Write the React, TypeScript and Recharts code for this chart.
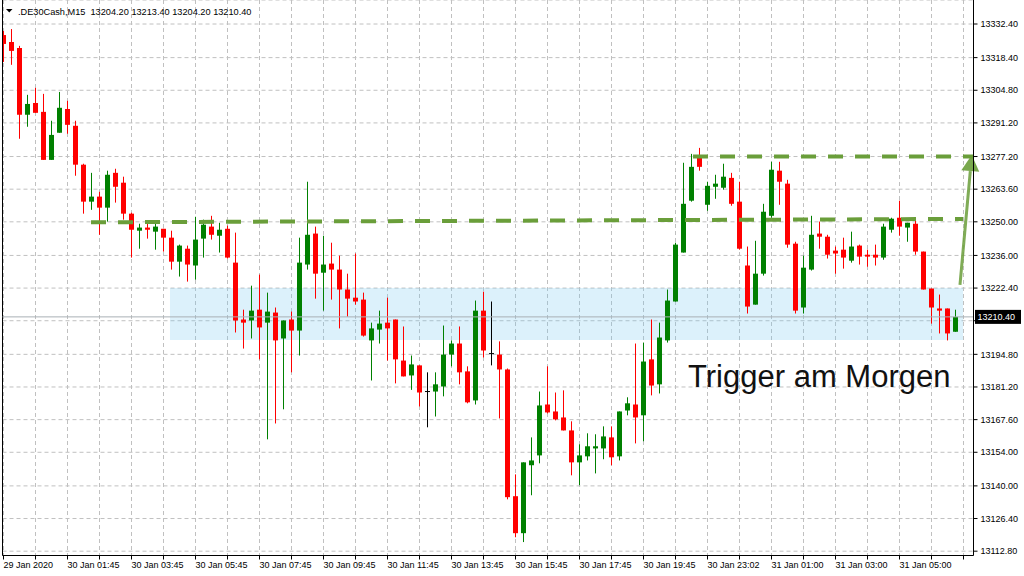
import React from 'react';
import {
  ComposedChart,
  Bar,
  XAxis,
  YAxis,
  CartesianGrid,
  ReferenceLine,
  ReferenceArea,
} from 'recharts';

// DE30 M15 candles, 29 Jan 23:45 -> 31 Jan 06:45
const opens = [
  13327.8, 13324.9, 13322.4, 13294.6, 13299.5, 13295.8, 13275.8, 13287.1, 13297.0, 13290.0,
  13273.8, 13258.4, 13260.5, 13255.9, 13270.4, 13266.3, 13253.4, 13246.3, 13247.6, 13245.9,
  13247.1, 13243.4, 13233.4, 13238.8, 13231.8, 13243.0, 13248.0, 13244.2, 13247.1, 13233.0,
  13209.3, 13208.9, 13213.4, 13208.0, 13212.2, 13201.4, 13209.3, 13204.7, 13232.2, 13245.1,
  13228.8, 13232.6, 13230.1, 13221.8, 13218.4, 13217.6, 13200.6, 13205.1, 13208.0, 13209.3,
  13192.2, 13186.0, 13190.2, 13179.3, 13179.3, 13181.4, 13194.7, 13199.3, 13187.7, 13175.6,
  13213.0, 13195.1, 13194.7, 13188.5, 13135.7, 13120.3, 13148.6, 13152.7, 13173.9, 13171.0,
  13168.5, 13163.1, 13149.8, 13152.3, 13155.6, 13155.6, 13160.2, 13152.3, 13171.4, 13173.9,
  13169.4, 13192.7, 13182.3, 13200.6, 13216.8, 13237.2, 13258.8, 13276.7, 13257.1, 13264.6,
  13264.2, 13268.3, 13258.4, 13231.8, 13215.5, 13228.4, 13252.5, 13271.3, 13265.9, 13240.9,
  13214.3, 13230.1, 13245.1, 13243.8, 13238.0, 13238.4, 13233.8, 13240.1, 13236.3, 13236.3,
  13235.1, 13246.7, 13251.7, 13247.6, 13249.2, 13237.6, 13222.2, 13213.9, 13213.9, 13204.2,
];
const highs = [
  13329.5, 13330.3, 13323.3, 13302.9, 13305.8, 13303.3, 13292.1, 13304.1, 13300.4, 13292.1,
  13274.2, 13270.4, 13262.5, 13271.3, 13272.1, 13268.8, 13253.8, 13249.2, 13249.2, 13249.2,
  13247.1, 13246.3, 13240.5, 13240.1, 13252.1, 13250.9, 13252.5, 13249.6, 13248.4, 13245.5,
  13213.4, 13223.4, 13228.0, 13220.5, 13214.3, 13208.9, 13212.6, 13243.4, 13266.7, 13248.0,
  13244.2, 13241.3, 13235.9, 13228.4, 13236.8, 13220.5, 13208.0, 13213.0, 13218.4, 13209.3,
  13206.4, 13194.3, 13190.2, 13187.3, 13187.3, 13206.8, 13200.6, 13206.4, 13189.8, 13217.2,
  13220.9, 13216.8, 13200.2, 13188.9, 13144.8, 13149.8, 13160.2, 13179.3, 13189.8, 13178.9,
  13179.8, 13166.9, 13157.3, 13161.9, 13161.5, 13164.8, 13164.8, 13171.0, 13176.9, 13199.3,
  13199.7, 13209.3, 13208.0, 13221.8, 13241.3, 13274.6, 13278.3, 13280.8, 13266.7, 13269.6,
  13274.2, 13270.4, 13266.7, 13239.7, 13242.1, 13257.5, 13275.0, 13275.0, 13267.5, 13241.7,
  13235.9, 13252.5, 13250.1, 13244.6, 13239.7, 13243.4, 13245.9, 13240.5, 13238.4, 13240.5,
  13249.2, 13251.7, 13258.8, 13249.6, 13251.3, 13237.6, 13222.2, 13219.7, 13213.9, 13213.4,
];
const lows = [
  13316.6, 13315.4, 13284.6, 13289.6, 13295.4, 13275.8, 13275.8, 13287.1, 13286.7, 13269.2,
  13253.4, 13255.0, 13244.6, 13250.1, 13258.0, 13250.9, 13235.1, 13238.8, 13243.0, 13238.4,
  13237.6, 13230.1, 13227.2, 13225.1, 13225.9, 13235.1, 13242.6, 13237.2, 13234.7, 13203.9,
  13197.2, 13201.4, 13192.7, 13159.4, 13166.0, 13171.9, 13187.3, 13194.3, 13230.1, 13218.0,
  13213.0, 13217.6, 13205.6, 13210.5, 13215.5, 13202.2, 13183.9, 13199.3, 13192.2, 13182.7,
  13185.6, 13180.0, 13173.1, 13164.4, 13168.9, 13177.3, 13189.8, 13182.3, 13174.4, 13173.9,
  13193.5, 13190.2, 13168.1, 13134.4, 13118.6, 13116.6, 13136.1, 13149.4, 13170.2, 13167.3,
  13163.1, 13144.4, 13140.3, 13150.6, 13145.2, 13151.1, 13148.6, 13150.6, 13169.4, 13157.7,
  13158.6, 13177.7, 13178.5, 13199.7, 13216.8, 13237.2, 13258.4, 13271.3, 13254.6, 13259.6,
  13263.4, 13256.7, 13238.4, 13211.8, 13215.5, 13227.6, 13251.7, 13257.1, 13239.2, 13211.8,
  13211.8, 13229.7, 13238.8, 13234.7, 13228.4, 13230.5, 13233.0, 13232.2, 13231.3, 13231.8,
  13234.2, 13245.5, 13244.2, 13241.7, 13236.3, 13221.8, 13207.6, 13203.5, 13200.6, 13204.2,
];
const closes = [
  13324.1, 13321.2, 13294.6, 13299.1, 13295.4, 13275.8, 13286.2, 13297.5, 13290.4, 13273.8,
  13258.4, 13260.5, 13255.9, 13269.6, 13264.6, 13253.4, 13246.7, 13247.6, 13246.7, 13248.0,
  13243.4, 13233.4, 13240.1, 13232.2, 13242.6, 13248.8, 13244.6, 13246.7, 13235.1, 13208.9,
  13208.0, 13213.0, 13206.0, 13212.6, 13200.6, 13208.9, 13204.7, 13233.0, 13244.6, 13228.4,
  13232.2, 13230.1, 13221.8, 13218.0, 13216.8, 13202.6, 13205.6, 13207.6, 13205.6, 13192.7,
  13185.6, 13190.6, 13178.9, 13179.3, 13182.3, 13194.7, 13199.3, 13187.3, 13174.8, 13213.0,
  13196.4, 13195.1, 13188.5, 13135.3, 13120.3, 13149.8, 13150.6, 13173.5, 13170.6, 13167.7,
  13163.1, 13149.8, 13152.7, 13156.5, 13156.5, 13160.6, 13151.9, 13171.0, 13174.4, 13168.5,
  13191.8, 13181.8, 13201.8, 13217.2, 13240.5, 13257.5, 13272.9, 13272.9, 13265.0, 13265.9,
  13268.8, 13257.5, 13238.8, 13214.7, 13228.4, 13254.2, 13271.7, 13266.7, 13240.5, 13213.0,
  13230.9, 13244.6, 13243.8, 13236.3, 13236.8, 13235.1, 13239.7, 13235.5, 13235.5, 13235.1,
  13248.0, 13251.3, 13248.0, 13249.6, 13237.6, 13221.8, 13214.3, 13213.0, 13203.5, 13210.4,
];

// one label every 8 bars (2 hours)
const xTickLabels = [
  '29 Jan 2020', '30 Jan 01:45', '30 Jan 03:45', '30 Jan 05:45', '30 Jan 07:45',
  '30 Jan 09:45', '30 Jan 11:45', '30 Jan 13:45', '30 Jan 15:45', '30 Jan 17:45',
  '30 Jan 19:45', '30 Jan 23:02', '31 Jan 01:00', '31 Jan 03:00', '31 Jan 05:00',
];
const yTicks = [
  13332.4, 13318.4, 13304.8, 13291.2, 13277.2, 13263.6, 13250.0, 13236.0, 13222.4,
  13208.8, 13194.8, 13181.2, 13167.6, 13154.0, 13140.0, 13126.4, 13112.8,
];

const symbol = '.DE30Cash,M15';
const lastBar = [13204.2, 13213.4, 13204.2, 13210.4];
const lastPrice = 13210.4;
const note = 'Trigger am Morgen';

// hand drawn levels
const zoneLow = 13200.8;
const zoneHigh = 13222.4;
const supportLevel = [13249.8, 13251.2];
const targetLevel = 13277.2;

const FONT = '"Liberation Sans", Arial, sans-serif';
const LEVEL_GREEN = '#6a9e3a';
const xDomain: [number, number] = [-0.125, 121.25];
const xTicks = Array.from({ length: 31 }, (_, k) => k * 4);

const data = opens.map((o, i) => ({
  i,
  o,
  h: highs[i],
  l: lows[i],
  c: closes[i],
  range: [lows[i], highs[i]],
}));

const Candle = (props: any) => {
  const { x, y, width, height, payload } = props;
  if (x == null || !payload) return null;
  const cx = x + width / 2;
  const top = Math.min(y, y + height);
  const span = Math.abs(height);
  const { o, h, l, c } = payload;
  const k = h > l ? span / (h - l) : 0;
  const bodyTop = top + (h - Math.max(o, c)) * k;
  const bodyBottom = top + (h - Math.min(o, c)) * k;
  const color = c > o ? '#008000' : c < o ? '#ff0000' : '#000000';
  return (
    <g>
      <rect x={cx - 0.5} y={top} width={1} height={Math.max(span, 1)} fill={color} />
      <rect
        x={cx - 2.5}
        y={o === c ? bodyTop - 0.5 : bodyTop}
        width={5}
        height={Math.max(bodyBottom - bodyTop, 1)}
        fill={color}
      />
    </g>
  );
};

const XTick = (props: any) => {
  const { x, y, payload } = props;
  const v = payload.value;
  if (v % 8 !== 0) return null;
  const label = xTickLabels[v / 8];
  if (!label) return null;
  return (
    <text x={x} y={y} dy="0.71em" textAnchor="start" fontSize={9} fontFamily={FONT} fill="#000">
      {label}
    </text>
  );
};

// the grid label sitting under the price tag is covered in MT4, so skip it
const formatY = (v: number) => (Math.abs(v - lastPrice) < 5 ? '' : v.toFixed(2));

const PriceTag = (props: any) => {
  const vb = props.viewBox;
  if (!vb) return null;
  const left = vb.x + vb.width + 1.5;
  return (
    <g>
      <rect x={left} y={vb.y - 7} width={46} height={14} fill="#000" />
      <text x={left + 2.5} y={vb.y} dy="0.355em" fontSize={9} fontFamily={FONT} fill="#fff">
        {lastPrice.toFixed(2)}
      </text>
    </g>
  );
};

const Arrow = (props: any) => {
  const { x1, y1, x2, y2 } = props;
  const dx = x2 - x1;
  const dy = y2 - y1;
  const len = Math.hypot(dx, dy) || 1;
  const ux = dx / len;
  const uy = dy / len;
  const bx = x2 - ux * 16;
  const by = y2 - uy * 16;
  return (
    <g>
      <line x1={x1} y1={y1} x2={bx} y2={by} stroke={LEVEL_GREEN} strokeWidth={3} strokeOpacity={0.85} />
      <polygon
        points={`${x2},${y2} ${bx - uy * 9},${by + ux * 9} ${bx + uy * 9},${by - ux * 9}`}
        fill={LEVEL_GREEN}
        fillOpacity={0.9}
      />
    </g>
  );
};

export default function App() {
  return (
    <div
      style={{
        position: 'fixed',
        left: 0,
        top: 0,
        width: 1024,
        height: 576,
        background: '#fff',
        overflow: 'hidden',
      }}
    >
      <ComposedChart
        width={1024}
        height={576}
        data={data}
        margin={{ top: 0, right: 0, bottom: 0, left: 2.5 }}
      >
        <CartesianGrid stroke="#c0c0c0" strokeDasharray="4 3" />
        <XAxis
          dataKey="i"
          type="number"
          domain={xDomain}
          allowDataOverflow
          ticks={xTicks}
          interval={0}
          height={20.5}
          tickSize={4}
          tickMargin={2}
          axisLine={{ stroke: '#000' }}
          tickLine={{ stroke: '#000' }}
          tick={<XTick />}
        />
        <YAxis
          orientation="right"
          domain={[13111.0, 13342.4]}
          allowDataOverflow
          ticks={yTicks}
          interval={0}
          width={50.5}
          tickSize={4}
          tickMargin={3}
          axisLine={{ stroke: '#000' }}
          tickLine={{ stroke: '#000' }}
          tick={{ fontSize: 9, fill: '#000', fontFamily: FONT }}
          tickFormatter={formatY}
        />
        <ReferenceLine x={xDomain[0]} stroke="#000" ifOverflow="visible" />
        <ReferenceLine y={lastPrice} stroke="#a9b0b5" ifOverflow="visible" label={<PriceTag />} />
        <Bar dataKey="range" barSize={6} shape={<Candle />} isAnimationActive={false} />
        <ReferenceArea
          x1={20.81}
          x2={119.94}
          y1={zoneLow}
          y2={zoneHigh}
          fill="#74c8f0"
          fillOpacity={0.25}
          stroke="none"
          ifOverflow="visible"
        />
        <ReferenceLine
          segment={[
            { x: 10.94, y: supportLevel[0] },
            { x: 119.94, y: supportLevel[1] },
          ]}
          stroke={LEVEL_GREEN}
          strokeWidth={4}
          strokeDasharray="15 12"
          ifOverflow="visible"
        />
        <ReferenceLine
          segment={[
            { x: 86.19, y: targetLevel },
            { x: xDomain[1], y: targetLevel },
          ]}
          stroke={LEVEL_GREEN}
          strokeWidth={4}
          strokeDasharray="15 12"
          ifOverflow="visible"
        />
        <ReferenceLine
          segment={[
            { x: 119.56, y: 13223.7 },
            { x: 121.03, y: 13277.8 },
          ]}
          shape={<Arrow />}
          ifOverflow="visible"
        />
      </ComposedChart>
      <svg
        width={1024}
        height={576}
        style={{ position: 'absolute', left: 0, top: 0, pointerEvents: 'none' }}
      >
        <polygon points="6,9 12.5,9 9.25,12.5" fill="#000" />
        <text x={18} y={14.5} fontSize={9.2} fontFamily={FONT} fill="#000" style={{ whiteSpace: 'pre' }}>
          {`${symbol}  ${lastBar.map((v) => v.toFixed(2)).join(' ')}`}
        </text>
        <text x={688} y={387} fontSize={31} fontFamily={FONT} fill="#111">
          {note}
        </text>
      </svg>
    </div>
  );
}
